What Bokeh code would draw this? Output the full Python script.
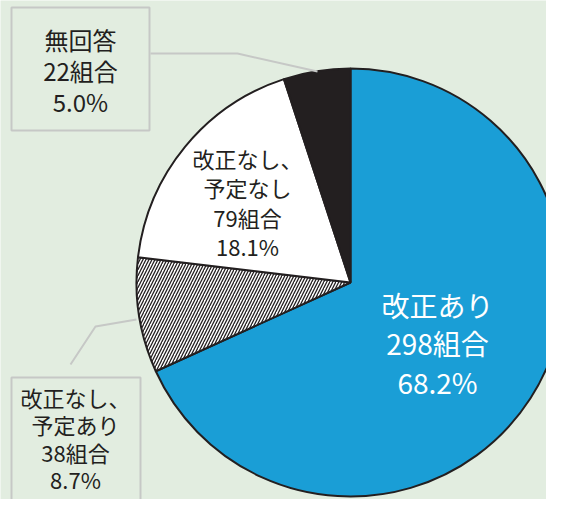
import math
from bokeh.plotting import figure
from bokeh.models import Range1d, ColumnDataSource
from bokeh.core.properties import value
from bokeh.embed import file_html
from bokeh.resources import INLINE

# ---- data ----
category_lines = [["改正あり"], ["改正なし、", "予定あり"], ["改正なし、", "予定なし"], ["無回答"]]
counts = [298, 38, 79, 22]
percents = [68.2, 8.7, 18.1, 5.0]
colors = ["#1a9ed6", "#ffffff", "#ffffff", "#231f20"]
hatches = [" ", "/", " ", " "]

W, H = 546, 499      # figure size (fits 562x515 window with 8px margin)
REF_H = 515          # layout coordinates follow the reference picture's pixels
BG = "#e2ede0"
FONT = "Noto Sans CJK JP"

def Y(py):
    return REF_H - py

p = figure(width=W, height=H, output_backend="svg", toolbar_location=None,
           x_range=Range1d(0, W), y_range=Range1d(REF_H - H, REF_H), min_border=0)
p.axis.visible = False
p.grid.visible = False
p.outline_line_color = None
p.background_fill_color = BG
p.border_fill_color = BG

cx, cy, r = 350, 282, 214
total = sum(counts)
starts, ends = [], []
cum = 0
for c in counts:
    a0 = math.pi / 2 - 2 * math.pi * (cum + c) / total
    a1 = math.pi / 2 - 2 * math.pi * cum / total
    starts.append(a0)
    ends.append(a1)
    cum += c

src = ColumnDataSource(dict(x=[cx] * 4, y=[Y(cy)] * 4, s=starts, e=ends,
                            fc=colors, hp=hatches))
p.wedge(x="x", y="y", radius=r, start_angle="s", end_angle="e", source=src,
        fill_color="fc", line_color="#231f20", line_width=2,
        hatch_pattern="hp", hatch_color="#231f20", hatch_scale=6, hatch_weight=1.3)

# label boxes and leader lines
grey = "#c6c8c6"
p.quad(left=[11, 11], right=[149, 140], top=[Y(7), Y(377)], bottom=[Y(130), Y(530)],
       fill_color=None, line_color=grey, line_width=2)
p.line([150, 237, 317], [Y(53), Y(53), Y(71)], line_color=grey, line_width=2)
p.line([70, 95, 136], [Y(364), Y(326), Y(319)], line_color=grey, line_width=2)

def label_texts(i):
    return category_lines[i] + [f"{counts[i]}組合", f"{percents[i]:.1f}%"]

# (center x, first line y, line spacing, font px, colour)
placements = [
    (437, 304, 38.5, 28, "#ffffff"),
    (75, 396, 27.5, 22, "#231f20"),
    (247, 157, 29.5, 22, "#231f20"),
    (80, 39, 31, 24, "#231f20"),
]
for i, (tx, ty, sp, fs, col) in enumerate(placements):
    lines = label_texts(i)
    p.text(x=[tx] * len(lines), y=[Y(ty + k * sp) for k in range(len(lines))], text=lines,
           text_font=value(FONT), text_font_size=f"{fs}px", text_color=col,
           text_align="center", text_baseline="middle")

open("out.html", "w").write(file_html(p, INLINE))
